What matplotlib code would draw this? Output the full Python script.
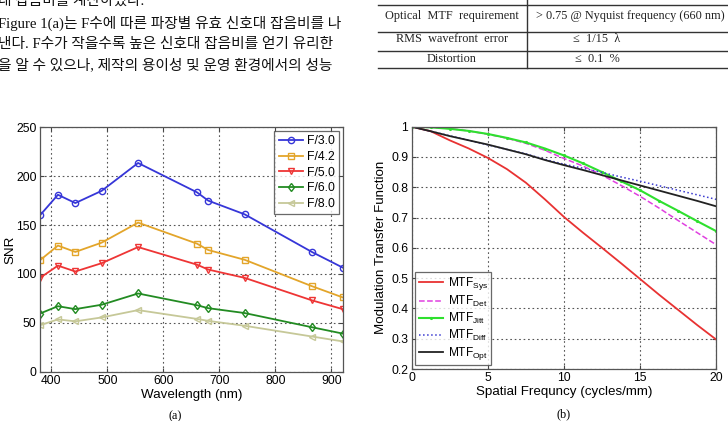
import matplotlib
matplotlib.use("Agg")
import matplotlib.pyplot as plt
from matplotlib.lines import Line2D
from matplotlib.ticker import FormatStrFormatter

# -----------------------------------------------------------------------------
# Data
# -----------------------------------------------------------------------------

wavelength_nm = [380, 412, 443, 490, 555, 660, 680, 745, 865, 920]
snr_f30 = [160, 181, 172.5, 185, 213.5, 183.5, 175, 161, 122.5, 106.5]
snr_f42 = [114, 129, 122.5, 132, 152.5, 131, 124.5, 114.5, 87.5, 76]
snr_f50 = [96, 108.5, 102.5, 111, 127.5, 109.5, 104.5, 96, 73, 64]
snr_f60 = [59.5, 67, 64, 68.5, 80, 68, 65, 60, 45.5, 39]
snr_f80 = [47.5, 53.5, 51.5, 55.5, 63, 54, 52, 47, 36, 31]
snr_labels = ["F/3.0", "F/4.2", "F/5.0", "F/6.0", "F/8.0"]

freq = [0, 1.25, 2.5, 3.75, 5, 6.25, 7.5, 8.75, 10, 11.25, 12.5, 13.75, 15,
        16.25, 17.5, 18.75, 20]
mtf_sys = [1.0, 0.985, 0.955, 0.928, 0.897, 0.860, 0.815, 0.760, 0.702, 0.650,
           0.600, 0.549, 0.497, 0.445, 0.395, 0.345, 0.297]
mtf_det = [1.0, 0.998, 0.994, 0.986, 0.975, 0.962, 0.945, 0.922, 0.895, 0.870,
           0.840, 0.806, 0.770, 0.731, 0.690, 0.650, 0.610]
mtf_jitt = [1.0, 0.998, 0.993, 0.986, 0.976, 0.963, 0.948, 0.928, 0.905, 0.879,
            0.850, 0.820, 0.790, 0.755, 0.722, 0.688, 0.655]
mtf_diff = [1.0, 0.985, 0.970, 0.955, 0.940, 0.925, 0.910, 0.892, 0.876, 0.863,
            0.849, 0.834, 0.820, 0.805, 0.790, 0.775, 0.760]
mtf_opt = [1.0, 0.985, 0.969, 0.955, 0.941, 0.925, 0.909, 0.890, 0.873, 0.857,
           0.840, 0.823, 0.806, 0.789, 0.772, 0.755, 0.737]
mtf_labels = [r"MTF$_{Sys}$", r"MTF$_{Det}$", r"MTF$_{Jitt}$", r"MTF$_{Diff}$",
              r"MTF$_{Opt}$"]

body_lines = [
    "대 잡음비를 계산하였다.",
    "Figure 1(a)는 F수에 따른 파장별 유효 신호대 잡음비를 나",
    "낸다. F수가 작을수록 높은 신호대 잡음비를 얻기 유리한",
    "을 알 수 있으나, 제작의 용이성 및 운영 환경에서의 성능",
]
table_left = ["Optical  MTF  requirement", "RMS  wavefront  error", "Distortion"]
table_right = ["> 0.75 @ Nyquist frequency (660 nm)", "≤  1/15  λ", "≤  0.1  %"]

# -----------------------------------------------------------------------------
# Figure
# -----------------------------------------------------------------------------

W, H = 728, 421
plt.rcParams["font.family"] = ["Liberation Sans", "DejaVu Sans"]
plt.rcParams["mathtext.default"] = "regular"

fig = plt.figure(figsize=(W / 100, H / 100), dpi=100)
fig.patch.set_facecolor("white")


def fx(x):
    return x / W


def fy(y):
    return 1 - y / H


serif_kr = ["Liberation Serif", "Noto Sans CJK KR"]

# body text (top left)
body_y = [1, 23, 44.5, 65]
for y, line in zip(body_y, body_lines):
    fig.text(fx(-2), fy(y), line, family=serif_kr, fontsize=10.6,
             va="center", ha="left", color="#111111")

# table (top right)
for y in [5, 32, 51, 68]:
    fig.add_artist(Line2D([fx(378), fx(730)], [fy(y), fy(y)],
                          transform=fig.transFigure, color="#333333", lw=1.0))
fig.add_artist(Line2D([fx(527), fx(527)], [fy(0), fy(68)],
                      transform=fig.transFigure, color="#333333", lw=1.0))
row_y = [16.5, 39, 58.5]
for ry, lt in zip(row_y, table_left):
    fig.text(fx(452), fy(ry), lt, family="Liberation Serif", fontsize=8.8,
             ha="center", va="center", color="#222222")
for i, (ry, rt) in enumerate(zip(row_y, table_right)):
    if i == 0:
        fig.text(fx(536), fy(ry), rt, family="Liberation Serif", fontsize=8.8,
                 ha="left", va="center", color="#222222")
    else:
        fig.text(fx(597), fy(ry), rt, family=["Liberation Serif", "DejaVu Serif"],
                 fontsize=8.8, ha="center", va="center", color="#222222")


def style_axes(ax):
    ax.grid(True, linestyle=(0, (1.5, 2.5)), color="#555555", lw=0.8)
    ax.tick_params(direction="in", length=3, labelsize=8.7, color="#444444",
                   top=True, right=True, pad=2.5)
    for s in ax.spines.values():
        s.set_color("#555555")
        s.set_linewidth(0.9)


# (a) SNR vs wavelength
ax1 = fig.add_axes([fx(40), fy(371.7), fx(302.7), 244.4 / H])
snr_series = [snr_f30, snr_f42, snr_f50, snr_f60, snr_f80]
snr_colors = ["#3636d8", "#e3a52a", "#ee3535", "#228b22", "#c6c898"]
snr_markers = ["o", "s", "v", "d", "<"]
for vals, lab, c, m in zip(snr_series, snr_labels, snr_colors, snr_markers):
    ax1.plot(wavelength_nm, vals, color=c, marker=m, ms=4.5, mfc="none",
             mew=1.0, lw=1.3, label=lab)
ax1.set_xlim(380, 920)
ax1.set_ylim(0, 250)
ax1.set_xticks([400, 500, 600, 700, 800, 900])
ax1.set_yticks([0, 50, 100, 150, 200, 250])
ax1.set_xlabel("Wavelength (nm)", fontsize=9.6, labelpad=1)
ax1.set_ylabel("SNR", fontsize=9.6, labelpad=0)
style_axes(ax1)
leg1 = ax1.legend(loc="upper right", fontsize=8.8, frameon=True, fancybox=False,
                  borderaxespad=0.3, handlelength=2.0, labelspacing=0.3,
                  borderpad=0.35, handletextpad=0.3)
leg1.get_frame().set_edgecolor("#444444")
leg1.get_frame().set_linewidth(0.9)

# (b) MTF vs spatial frequency
ax2 = fig.add_axes([fx(411.7), fy(369), fx(304.6), 242.3 / H])
ax2.plot(freq, mtf_sys, color="#e83232", lw=1.3, label=mtf_labels[0])
ax2.plot(freq, mtf_det, color="#e040e0", lw=1.1, ls="--", label=mtf_labels[1])
ax2.plot(freq, mtf_jitt, color="#2ee02e", lw=1.5, marker=".", ms=2.5,
         label=mtf_labels[2])
ax2.plot(freq, mtf_diff, color="#3a3ad0", lw=1.1, ls=":", label=mtf_labels[3])
ax2.plot(freq, mtf_opt, color="#222222", lw=1.3, label=mtf_labels[4])
ax2.set_xlim(0, 20)
ax2.set_ylim(0.2, 1.0)
ax2.set_xticks([0, 5, 10, 15, 20])
ax2.set_yticks([0.2, 0.3, 0.4, 0.5, 0.6, 0.7, 0.8, 0.9, 1.0])
ax2.yaxis.set_major_formatter(FormatStrFormatter("%g"))
ax2.set_xlabel("Spatial Frequncy (cycles/mm)", fontsize=9.6, labelpad=1)
ax2.set_ylabel("Modulation Transfer Function", fontsize=9.6, labelpad=3)
style_axes(ax2)
leg2 = ax2.legend(loc="lower left", fontsize=8.6, frameon=True, fancybox=False,
                  borderaxespad=0.3, handlelength=2.0, labelspacing=0.15,
                  borderpad=0.3, handletextpad=0.4)
leg2.get_frame().set_edgecolor("#444444")
leg2.get_frame().set_linewidth(0.9)

# captions
fig.text(fx(175), fy(416), "(a)", family="Liberation Serif", fontsize=8.8,
         ha="center", va="center")
fig.text(fx(564), fy(414), "(b)", family="Liberation Serif", fontsize=8.8,
         ha="center", va="center")

fig.savefig("out.png", dpi=100)
